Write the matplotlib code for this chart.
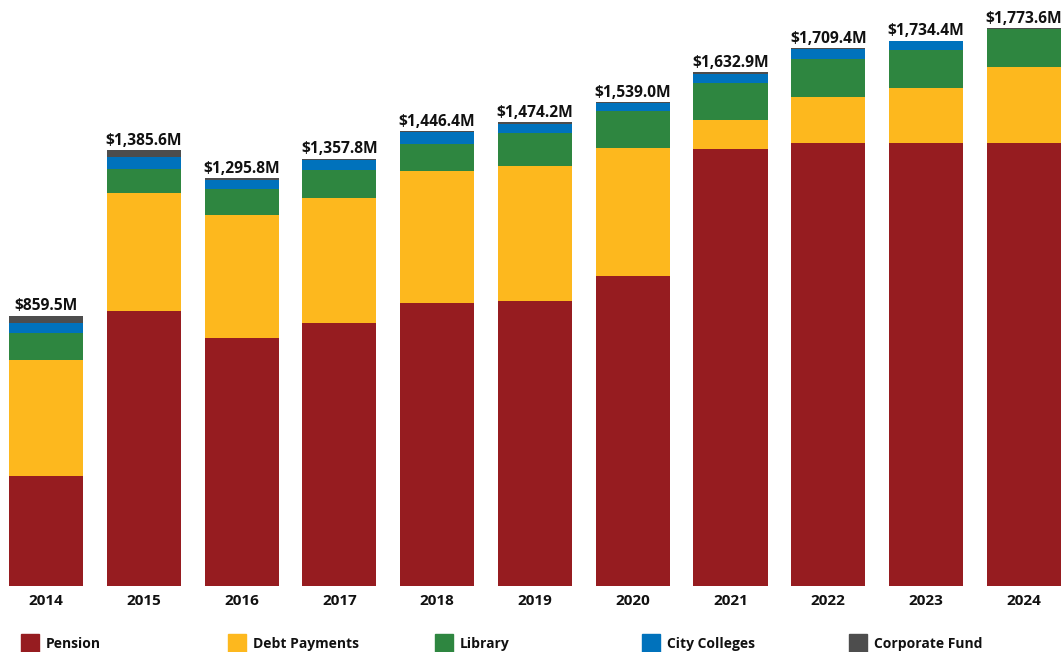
import matplotlib.pyplot as plt
from matplotlib.patches import Rectangle

plt.rcParams['font.family'] = ['Open Sans', 'DejaVu Sans']

# values in $ millions
years = ["2014", "2015", "2016", "2017", "2018", "2019", "2020", "2021", "2022", "2023", "2024"]
pension = [350, 875, 790, 837, 901, 907, 987, 1389, 1409, 1409, 1409]
debt_payments = [369, 375, 388, 398, 417, 428, 404, 92, 147, 174, 242]
library = [86, 76, 83, 89, 88, 105, 118, 117, 120, 122, 120]
city_colleges = [32, 38, 29, 30, 37, 29, 25, 30, 30, 27, 0]
corporate_fund = [22, 22, 6, 4, 3, 5, 5, 5, 3, 2, 3]
totals = [859.5, 1385.6, 1295.8, 1357.8, 1446.4, 1474.2, 1539.0, 1632.9, 1709.4, 1734.4, 1773.6]

series = [
    ("Pension", pension, "#961C20"),
    ("Debt Payments", debt_payments, "#FDB81E"),
    ("Library", library, "#2E8640"),
    ("City Colleges", city_colleges, "#0072BC"),
    ("Corporate Fund", corporate_fund, "#4D4D4D"),
]

fig = plt.figure(figsize=(10.63, 6.52), dpi=100)
ax = fig.add_axes([0, 0.1012, 1, 0.8988])

x = list(range(len(years)))
bottom = [0] * len(years)
for name, vals, color in series:
    ax.bar(x, vals, width=0.757, bottom=bottom, color=color, label=name)
    bottom = [b + v for b, v in zip(bottom, vals)]

# total labels on top of each bar
for xi, top, tot in zip(x, bottom, totals):
    ax.annotate(f"${tot:,.1f}M", (xi, top), xytext=(0, 1), textcoords="offset points",
                ha="center", va="bottom", fontsize=11.2, fontweight="bold", color="#111111")

ax.set_xlim(-0.47, 10.40)
ax.set_ylim(0, 1863)
ax.set_xticks(x)
ax.set_xticklabels(years, fontsize=11, fontweight="bold", color="#111111")
ax.tick_params(axis="x", length=0, pad=6)
ax.set_yticks([])
for s in ax.spines.values():
    s.set_visible(False)

# legend row along the bottom
for i, (name, vals, color) in enumerate(series):
    lx = 21 + 207 * i
    fig.patches.append(Rectangle((lx / 1063, 0), 18 / 1063, 18 / 652,
                                 transform=fig.transFigure, color=color))
    fig.text((lx + 25) / 1063, (652 - 644) / 652, name, fontsize=10, fontweight="bold",
             color="#111111", va="center", ha="left")

fig.savefig("out.png", dpi=100)
